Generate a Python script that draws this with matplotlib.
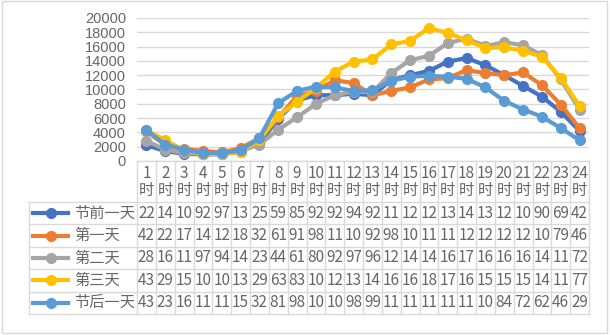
import matplotlib
matplotlib.use("Agg")
import matplotlib.pyplot as plt
from matplotlib.lines import Line2D
from matplotlib.patches import Rectangle

plt.rcParams['font.family'] = ['Noto Sans CJK SC', 'DejaVu Sans']

hours = ['1', '2', '3', '4', '5', '6', '7', '8', '9', '10', '11', '12',
         '13', '14', '15', '16', '17', '18', '19', '20', '21', '22', '23', '24']
hour_unit = '时'
series_names = ['节前一天', '第一天', '第二天', '第三天', '节后一天']
pre_day = [2200, 1400, 1000, 920, 970, 1300, 2500, 5900, 8500, 9200, 9200, 9400,
           9200, 11300, 12000, 12600, 13900, 14400, 13400, 12000, 10500, 9000, 6900, 4200]
day1 = [4200, 2200, 1700, 1400, 1200, 1800, 3200, 6100, 9100, 9800, 11300, 10900,
        9200, 9800, 10300, 11400, 11600, 12700, 12300, 12000, 12400, 10600, 7900, 4600]
day2 = [2800, 1600, 1100, 970, 940, 1400, 2300, 4400, 6100, 8000, 9200, 9700,
        9600, 12300, 14100, 14700, 16500, 17100, 16100, 16600, 16200, 14800, 11400, 7200]
day3 = [4300, 2900, 1500, 1000, 1000, 1300, 2900, 6300, 8300, 10200, 12500, 13900,
        14200, 16300, 16800, 18600, 17900, 16900, 15800, 15900, 15400, 14600, 11600, 7700]
post_day = [4300, 2300, 1600, 1100, 1100, 1500, 3200, 8100, 9800, 10400, 10300, 9800,
            9900, 11200, 11800, 11900, 11800, 11500, 10300, 8400, 7200, 6200, 4600, 2900]
colors = ['#4472C4', '#ED7D31', '#A5A5A5', '#FFC000', '#5B9BD5']
y_ticks = [0, 2000, 4000, 6000, 8000, 10000, 12000, 14000, 16000, 18000, 20000]

all_series = [pre_day, day1, day2, day3, post_day]

W, H = 610, 335
fig = plt.figure(figsize=(W / 100, H / 100), dpi=100)

def fx(px):
    return px / W

def fy(py):
    return 1 - py / H

x_left, x_right = 137, 589
y_top, y_bot = 18, 161
ax = fig.add_axes([fx(x_left), fy(y_bot), fx(x_right - x_left), (y_bot - y_top) / H])
xs = list(range(len(hours)))
for vals, c in zip(all_series, colors):
    ax.plot(xs, vals, color=c, lw=3, marker='o', ms=7, solid_capstyle='round', zorder=3)
ax.set_xlim(-0.5, len(hours) - 0.5)
ax.set_ylim(0, 20000)
ax.set_yticks(y_ticks)
ax.set_yticklabels([str(t) for t in y_ticks], color='#666666', fontsize=10.5,
                   family=['Liberation Sans', 'DejaVu Sans'])
ax.tick_params(axis='y', length=0, pad=8)
ax.set_xticks([])
ax.grid(axis='y', color='#D9D9D9', lw=1)
ax.set_axisbelow(True)
for s in ax.spines.values():
    s.set_visible(False)
ax.patch.set_alpha(0)

# table
line_c = '#D9D9D9'
txt_c = '#666666'
ncol = len(hours)
colw = (x_right - x_left) / ncol
row_edges = [202, 224.4, 246.8, 269.2, 291.6, 314]
leg_left = 29

def hline(x0, x1, y):
    fig.add_artist(Line2D([fx(x0), fx(x1)], [fy(y), fy(y)], color=line_c, lw=1))

def vline(x, y0, y1):
    fig.add_artist(Line2D([fx(x), fx(x)], [fy(y0), fy(y1)], color=line_c, lw=1))

hline(x_left, x_right, y_bot)
for y in row_edges:
    hline(leg_left, x_right, y)
for i in range(ncol + 1):
    vline(x_left + i * colw, y_bot, row_edges[-1])
vline(leg_left, row_edges[0], row_edges[-1])

for i, h in enumerate(hours):
    cx = x_left + (i + 0.5) * colw
    fig.text(fx(cx), fy(173), h, ha='center', va='center', fontsize=11, color=txt_c)
    fig.text(fx(cx), fy(190), hour_unit, ha='center', va='center', fontsize=11, color=txt_c)

for r, (name, vals, c) in enumerate(zip(series_names, all_series, colors)):
    cy = (row_edges[r] + row_edges[r + 1]) / 2
    fig.add_artist(Line2D([fx(33), fx(68)], [fy(cy), fy(cy)], color=c, lw=3))
    fig.add_artist(Line2D([fx(51)], [fy(cy)], color=c, marker='o', ms=7, lw=0))
    fig.text(fx(74), fy(cy), name, ha='left', va='center', fontsize=11, color=txt_c)
    for i, v in enumerate(vals):
        cx = x_left + (i + 0.5) * colw
        fig.text(fx(cx), fy(cy), str(int(v))[:2], ha='center', va='center',
                 fontsize=11, color=txt_c)

fig.add_artist(Rectangle((fx(2), fy(333)), fx(605), (333 - 1) / H, transform=fig.transFigure,
                         fill=False, edgecolor=line_c, lw=1))

fig.savefig('out.png', dpi=100, facecolor='white')
